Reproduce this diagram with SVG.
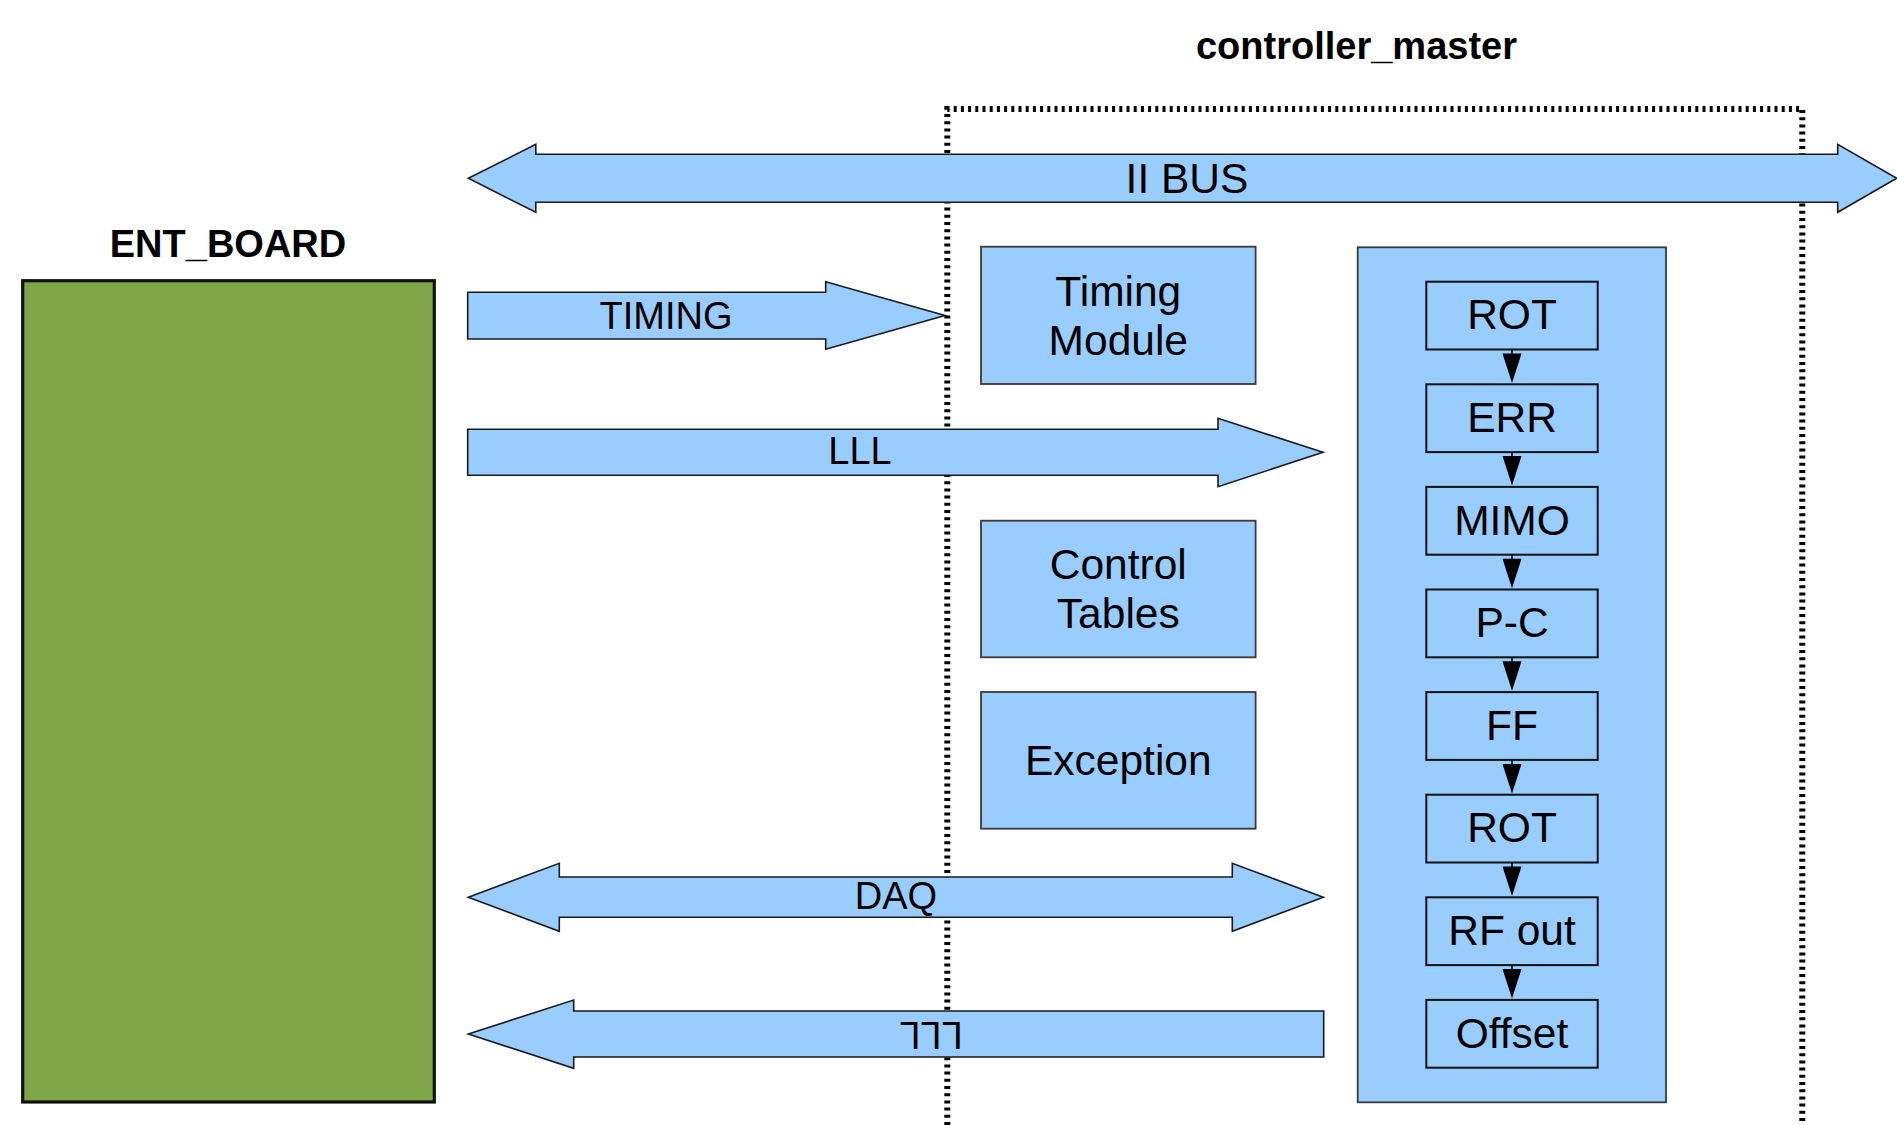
<svg xmlns="http://www.w3.org/2000/svg" width="1897" height="1125" viewBox="0 0 1897 1125">
<style>
text{font-family:"Liberation Sans",Arial,sans-serif;fill:#000}
.t{font-weight:bold;font-size:38px;text-anchor:middle}
.lbl{font-size:42.5px;text-anchor:middle}
.al{font-size:38px;text-anchor:middle}
.blk{fill:#99ccff;stroke:#3a3a3a;stroke-width:1.8}
.sb{fill:#99ccff;stroke:#111;stroke-width:2}
.arr{fill:#99ccff;stroke:#1a1a1a;stroke-width:1.6;stroke-linejoin:miter}
.dot{fill:none;stroke:#000;stroke-width:6;stroke-dasharray:3 4.2}
.ln{stroke:#000;stroke-width:1.6}
.hd{fill:#000}
</style>
<rect width="1897" height="1125" fill="#fff"/>

<g id="boundary">
<path class="dot" d="M947.3,1125 V109 H1802.3 V1125"/>
<text class="t" x="1356.5" y="59">controller_master</text>
</g>

<g id="ent_board">
<rect x="22.7" y="280.7" width="411.6" height="821.3" fill="#7ea547" stroke="#111" stroke-width="3.2"/>
<text class="t" x="228" y="256.7">ENT_BOARD</text>
</g>

<g id="timing_module">
<rect class="blk" x="981" y="246.7" width="274.6" height="137.3"/>
<text class="lbl" x="1118.3" y="306">Timing</text>
<text class="lbl" x="1118.3" y="355">Module</text>
</g>

<g id="control_tables">
<rect class="blk" x="981" y="520.7" width="274.6" height="136.6"/>
<text class="lbl" x="1118.3" y="579.3">Control</text>
<text class="lbl" x="1118.3" y="627.7">Tables</text>
</g>

<g id="exception">
<rect class="blk" x="981" y="692" width="274.6" height="136.7"/>
<text class="lbl" x="1118.3" y="775">Exception</text>
</g>

<g id="pipeline">
<rect class="blk" x="1357.7" y="247.3" width="308.3" height="855"/>
</g>

<g id="rot1"><rect class="sb" x="1426.3" y="281.7" width="171.4" height="67.8"/><text class="lbl" x="1512" y="329.3">ROT</text></g>
<g id="err"><rect class="sb" x="1426.3" y="384.3" width="171.4" height="67.8"/><text class="lbl" x="1512" y="431.9">ERR</text></g>
<g id="mimo"><rect class="sb" x="1426.3" y="486.9" width="171.4" height="67.8"/><text class="lbl" x="1512" y="534.5">MIMO</text></g>
<g id="pc"><rect class="sb" x="1426.3" y="589.5" width="171.4" height="67.8"/><text class="lbl" x="1512" y="637.1">P-C</text></g>
<g id="ff"><rect class="sb" x="1426.3" y="692.1" width="171.4" height="67.8"/><text class="lbl" x="1512" y="739.7">FF</text></g>
<g id="rot2"><rect class="sb" x="1426.3" y="794.7" width="171.4" height="67.8"/><text class="lbl" x="1512" y="842.3">ROT</text></g>
<g id="rfout"><rect class="sb" x="1426.3" y="897.3" width="171.4" height="67.8"/><text class="lbl" x="1512" y="944.9">RF out</text></g>
<g id="offset"><rect class="sb" x="1426.3" y="999.9" width="171.4" height="67.8"/><text class="lbl" x="1512" y="1047.5">Offset</text></g>

<g id="connectors">
<polygon class="arr" points="468.4,178.3 535.8,144.3 535.8,154.3 1837.7,154.3 1837.7,144.3 1896.7,178.3 1837.7,212.3 1837.7,202.3 535.8,202.3 535.8,212.3"/>
<text class="lbl" x="1187" y="192.7">II BUS</text>

<polygon class="arr" points="467.7,292.3 825.7,292.3 825.7,281.7 945,315.5 825.7,349.3 825.7,339 467.7,339"/>
<text class="al" x="666" y="329.3">TIMING</text>

<polygon class="arr" points="467.7,429.3 1218,429.3 1218,418.3 1323,452.3 1218,486.7 1218,475.3 467.7,475.3"/>
<text class="al" x="860" y="464.3">LLL</text>

<polygon class="arr" points="468.3,897.3 559.3,863.3 559.3,877 1232.3,877 1232.3,863.3 1323.3,897.3 1232.3,931.3 1232.3,917.3 559.3,917.3 559.3,931.3"/>
<text class="al" x="896" y="909">DAQ</text>

<polygon class="arr" points="468.3,1034 573.7,1000 573.7,1011 1323.7,1011 1323.7,1057 573.7,1057 573.7,1068.3"/>
<text class="al" x="931" y="1047.3" transform="rotate(180 931 1034.5)">LLL</text>

<g id="chain">
<line class="ln" x1="1512" y1="349.5" x2="1512" y2="354"/><polygon class="hd" points="1502.5,353.5 1521.5,353.5 1512,383"/>
<line class="ln" x1="1512" y1="452.1" x2="1512" y2="456.6"/><polygon class="hd" points="1502.5,456.1 1521.5,456.1 1512,485.6"/>
<line class="ln" x1="1512" y1="554.7" x2="1512" y2="559.2"/><polygon class="hd" points="1502.5,558.7 1521.5,558.7 1512,588.2"/>
<line class="ln" x1="1512" y1="657.3" x2="1512" y2="661.8"/><polygon class="hd" points="1502.5,661.3 1521.5,661.3 1512,690.8"/>
<line class="ln" x1="1512" y1="759.9" x2="1512" y2="764.4"/><polygon class="hd" points="1502.5,763.9 1521.5,763.9 1512,793.4"/>
<line class="ln" x1="1512" y1="862.5" x2="1512" y2="867"/><polygon class="hd" points="1502.5,866.5 1521.5,866.5 1512,896"/>
<line class="ln" x1="1512" y1="965.1" x2="1512" y2="969.6"/><polygon class="hd" points="1502.5,969.1 1521.5,969.1 1512,998.6"/>
</g>
</g>
</svg>
